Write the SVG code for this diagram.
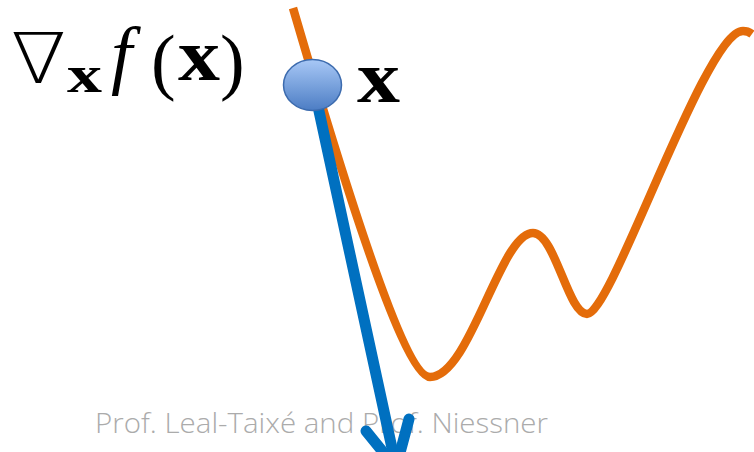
<svg xmlns="http://www.w3.org/2000/svg" width="754" height="452" viewBox="0 0 754 452">
<style>
.m{font-family:"Liberation Serif","DejaVu Serif",serif;fill:#000}
.b{font-weight:bold}
.wm{font-family:"Open Sans","Lato",sans-serif;font-weight:300;fill:#ABABAB;font-size:28px}
</style>
<defs>
<linearGradient id="ballg" x1="0" y1="0" x2="0" y2="1">
<stop offset="0" stop-color="#A8C8F6"/>
<stop offset="1" stop-color="#4C7DC4"/>
</linearGradient>
</defs>
<rect width="754" height="452" fill="#fff"/>
<g id="formula">
<text x="11" y="83" font-size="70" font-family="'DejaVu Sans',sans-serif" font-weight="200" textLength="55" lengthAdjust="spacingAndGlyphs">∇</text>
<text class="m b" x="67" y="92" font-size="52" textLength="35" lengthAdjust="spacingAndGlyphs">x</text>
<text class="m" x="111" y="80" font-size="76" font-style="italic">f</text>
<text class="m" x="151" y="86" font-size="74">(</text>
<text class="m b" x="178" y="80" font-size="74" textLength="42" lengthAdjust="spacingAndGlyphs">x</text>
<text class="m" x="220" y="86" font-size="74">)</text>
</g>
<g id="watermark">
<text class="wm" x="95" y="433" textLength="453" lengthAdjust="spacingAndGlyphs">Prof. Leal-Taixé and Prof. Niessner</text>
</g>
<g id="curve">
<path d="M293 8 C320 100 400 377 430 377 C470 377 500 233 533 233 C555 233 568 314 587 314 C612 314 705 31 743 31 Q748 31 752 34" fill="none" stroke="#E46C0A" stroke-width="8.5"/>
</g>
<g id="connectors">
<path d="M314 88 L395 462" fill="none" stroke="#0070C0" stroke-width="11" stroke-linecap="round"/>
<path d="M366 431 L396 468 L409 419" fill="none" stroke="#0070C0" stroke-width="11" stroke-linecap="round" stroke-linejoin="round"/>
</g>
<g id="point">
<ellipse cx="312.5" cy="85" rx="29" ry="25.5" fill="url(#ballg)" stroke="#3C6BAE" stroke-width="1.5"/>
<text class="m b" x="357" y="102" font-size="74" textLength="43" lengthAdjust="spacingAndGlyphs">x</text>
</g>
</svg>
